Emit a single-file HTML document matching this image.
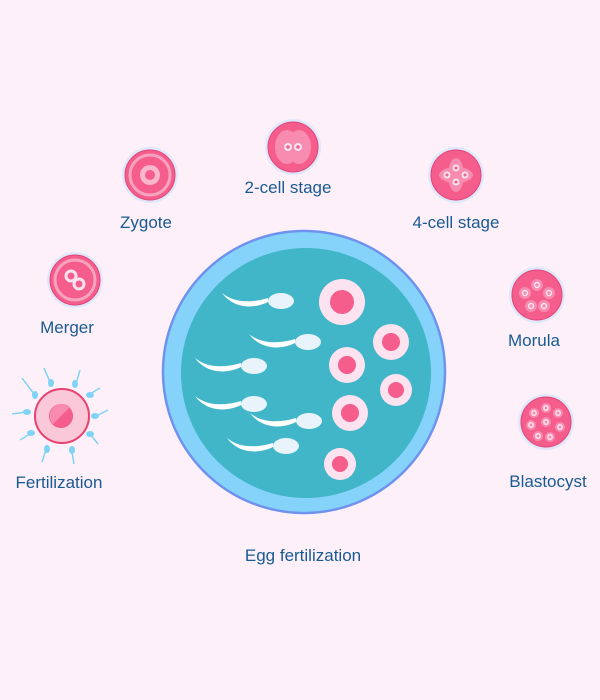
<!DOCTYPE html>
<html><head><style>
html,body{margin:0;padding:0;background:#fdf0f8;}
svg{display:block}
text{font-family:"Liberation Sans",sans-serif;font-size:17px;fill:#195a92;text-anchor:middle}
</style></head><body>
<svg width="600" height="700" viewBox="0 0 600 700">
<defs>
<g id="sp"><path d="M0,-1 C-14,6 -34,6 -46,-10 C-34,0 -16,0 0,-5 Z" fill="#fff"/><ellipse cx="13" cy="-2" rx="13" ry="8" fill="#e8f3fb"/></g>
</defs>
<rect width="600" height="700" fill="#fdf0f8"/>
<circle cx="304" cy="372" r="141" fill="#85d3fb" stroke="#6f92ef" stroke-width="2.5"/>
<circle cx="306" cy="373" r="125" fill="#40b6c8"/>
<use href="#sp" x="268" y="303"/>
<use href="#sp" x="295" y="344"/>
<use href="#sp" x="241" y="368"/>
<use href="#sp" x="241" y="406"/>
<use href="#sp" x="296" y="423"/>
<use href="#sp" x="273" y="448"/>
<g><circle cx="342" cy="302" r="23" fill="#fde3ef"/><circle cx="342" cy="302" r="12" fill="#f45d8c"/></g>
<g><circle cx="391" cy="342" r="18" fill="#fde3ef"/><circle cx="391" cy="342" r="9" fill="#f45d8c"/></g>
<g><circle cx="347" cy="365" r="18" fill="#fde3ef"/><circle cx="347" cy="365" r="9" fill="#f45d8c"/></g>
<g><circle cx="396" cy="390" r="16" fill="#fde3ef"/><circle cx="396" cy="390" r="8" fill="#f45d8c"/></g>
<g><circle cx="350" cy="413" r="18" fill="#fde3ef"/><circle cx="350" cy="413" r="9" fill="#f45d8c"/></g>
<g><circle cx="340" cy="464" r="16" fill="#fde3ef"/><circle cx="340" cy="464" r="8" fill="#f45d8c"/></g>

<g transform="translate(150,175)"><circle r="28" fill="#dfe7fb"/><circle r="25" fill="#f45d8c" stroke="#e24477"/><circle r="20" fill="none" stroke="#f7a3c0" stroke-width="3"/><circle r="10" fill="#f9b6cc"/><circle r="5" fill="#f45d8c"/></g>
<g transform="translate(293,147)"><circle r="28" fill="#dfe7fb"/><circle r="25" fill="#f45d8c" stroke="#e24477"/><ellipse cx="-6" rx="12" ry="17" fill="#f88bb0"/><ellipse cx="6" rx="12" ry="17" fill="#f88bb0"/><circle cx="-5" r="4" fill="#fde3ef"/><circle cx="-5" r="1.8" fill="#f45d8c"/><circle cx="5" r="4" fill="#fde3ef"/><circle cx="5" r="1.8" fill="#f45d8c"/></g>
<g transform="translate(456,175)"><circle r="28" fill="#dfe7fb"/><circle r="25" fill="#f45d8c" stroke="#e24477"/><ellipse rx="8" ry="17" fill="#f88bb0"/><ellipse rx="17" ry="8" fill="#f88bb0"/><g fill="#fde3ef"><circle cx="0" cy="-7" r="3.5"/><circle cx="0" cy="7" r="3.5"/><circle cx="-9" cy="0" r="3.5"/><circle cx="9" cy="0" r="3.5"/></g><g fill="#f45d8c"><circle cx="0" cy="-7" r="1.5"/><circle cx="0" cy="7" r="1.5"/><circle cx="-9" cy="0" r="1.5"/><circle cx="9" cy="0" r="1.5"/></g></g>
<g transform="translate(75,280)"><circle r="28" fill="#dfe7fb"/><circle r="25" fill="#f45d8c" stroke="#e24477"/><circle r="20" fill="none" stroke="#f7a3c0" stroke-width="3"/><circle cx="-4" cy="-4" r="5" fill="none" stroke="#fde3ef" stroke-width="3"/><circle cx="4" cy="4" r="5" fill="none" stroke="#fde3ef" stroke-width="3"/></g>
<g transform="translate(537,295)"><circle r="28" fill="#dfe7fb"/><circle r="25" fill="#f45d8c" stroke="#e24477"/>
<g fill="#f88bb0"><circle cx="0" cy="-10" r="6"/><circle cx="-12" cy="-2" r="6"/><circle cx="12" cy="-2" r="6"/><circle cx="-6" cy="11" r="6"/><circle cx="7" cy="11" r="6"/></g>
<g fill="none" stroke="#fde3ef" stroke-width="1.5"><circle cx="0" cy="-10" r="2.5"/><circle cx="-12" cy="-2" r="2.5"/><circle cx="12" cy="-2" r="2.5"/><circle cx="-6" cy="11" r="2.5"/><circle cx="7" cy="11" r="2.5"/></g></g>
<g transform="translate(546,422)"><circle r="28" fill="#dfe7fb"/><circle r="25" fill="#f45d8c" stroke="#e24477"/>
<g fill="#f88bb0"><circle cx="0" cy="-14" r="5"/><circle cx="-12" cy="-9" r="5"/><circle cx="12" cy="-9" r="5"/><circle cx="0" cy="0" r="5"/><circle cx="-15" cy="3" r="5"/><circle cx="14" cy="5" r="5"/><circle cx="-8" cy="14" r="5"/><circle cx="4" cy="15" r="5"/></g>
<g fill="none" stroke="#fde3ef" stroke-width="1.5"><circle cx="0" cy="-14" r="2.2"/><circle cx="-12" cy="-9" r="2.2"/><circle cx="12" cy="-9" r="2.2"/><circle cx="0" cy="0" r="2.2"/><circle cx="-15" cy="3" r="2.2"/><circle cx="14" cy="5" r="2.2"/><circle cx="-8" cy="14" r="2.2"/><circle cx="4" cy="15" r="2.2"/></g></g>
<g transform="translate(62,416)">
<g stroke="#7fd3f5" stroke-width="1.5" fill="none">
<path d="M-36,-4 L-50,-2"/><path d="M-28,-22 L-40,-38"/><path d="M-12,-34 L-18,-48"/><path d="M14,-32 L18,-46"/><path d="M28,-22 L38,-28"/><path d="M34,0 L46,-6"/><path d="M28,18 L36,28"/><path d="M10,36 L12,48"/><path d="M-16,34 L-20,46"/><path d="M-32,18 L-42,24"/>
</g>
<g fill="#7fd3f5"><ellipse cx="-35" cy="-4" rx="4" ry="3"/><ellipse cx="-27" cy="-21" rx="3" ry="4"/><ellipse cx="-11" cy="-33" rx="3" ry="4"/><ellipse cx="13" cy="-32" rx="3" ry="4"/><ellipse cx="28" cy="-21" rx="4" ry="3"/><ellipse cx="33" cy="0" rx="4" ry="3"/><ellipse cx="28" cy="18" rx="4" ry="3"/><ellipse cx="10" cy="34" rx="3" ry="4"/><ellipse cx="-15" cy="33" rx="3" ry="4"/><ellipse cx="-31" cy="17" rx="4" ry="3"/></g>
<circle r="27" fill="#fbc8d9" stroke="#e8406f" stroke-width="2"/><circle cx="-1" r="12" fill="#f45d8c"/><path d="M-10,-7 A12,12 0 0 1 8,-9 L-9,8 A12,12 0 0 1 -10,-7Z" fill="#f88bb0"/></g>
<text x="288" y="193">2-cell stage</text>
<text x="146" y="228">Zygote</text>
<text x="456" y="228">4-cell stage</text>
<text x="67" y="333">Merger</text>
<text x="534" y="346">Morula</text>
<text x="548" y="487">Blastocyst</text>
<text x="59" y="488">Fertilization</text>
<text x="303" y="561">Egg fertilization</text>
</svg>
</body></html>
